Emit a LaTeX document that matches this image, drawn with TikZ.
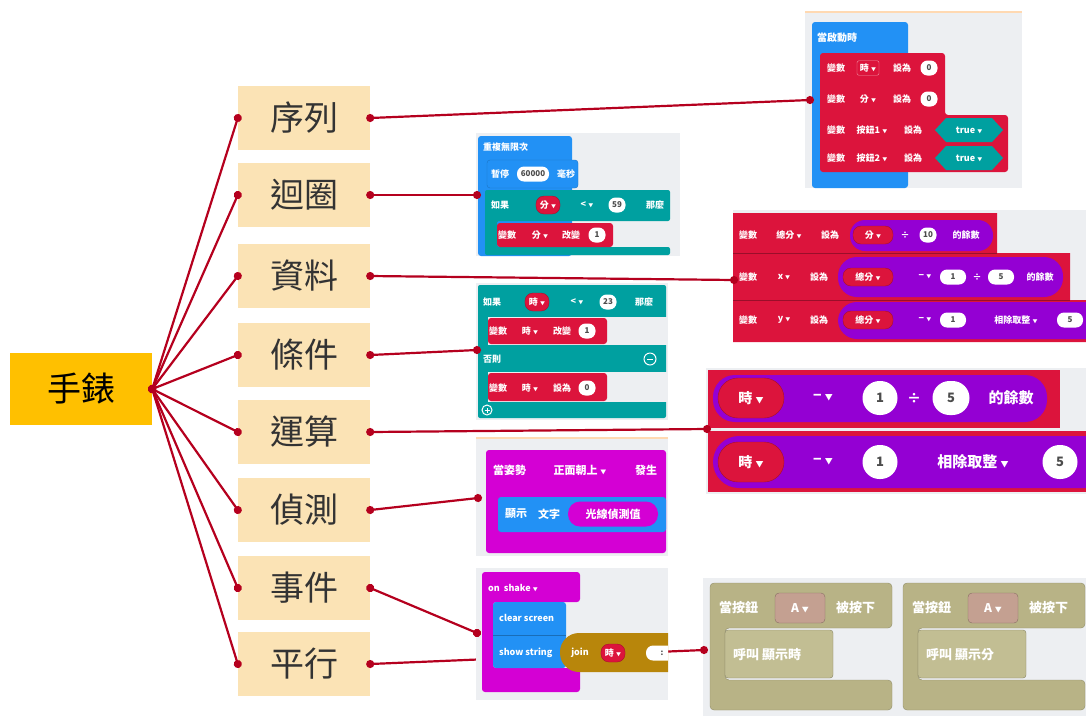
\documentclass[tikz,border=0pt]{standalone}
\usepackage{fontspec}
\newfontfamily\cjk{Noto Sans CJK TC}
\usetikzlibrary{arrows.meta}
\usetikzlibrary{positioning}

\definecolor{watchorange}{HTML}{FFC000}
\definecolor{topicbeige}{HTML}{FBE3B5}
\definecolor{linkred}{HTML}{B5001E}
\definecolor{panelgray}{HTML}{EDEFF2}
\definecolor{mcblue}{HTML}{2291F5}
\definecolor{mcred}{HTML}{DC143C}
\definecolor{mcteal}{HTML}{00A0A0}
\definecolor{mcpurple}{HTML}{9400D3}
\definecolor{mcmagenta}{HTML}{D400D4}
\definecolor{mcgold}{HTML}{B8860B}
\definecolor{mcolive}{HTML}{B8B386}
\definecolor{mcoliveinner}{HTML}{C2BE93}
\definecolor{mcbrown}{HTML}{C4A091}

\newcommand{\mcdrop}[1][5]{{\fontsize{#1}{#1}\selectfont ▼}}

\tikzset{
  topic/.style={fill=topicbeige, minimum width=132pt, minimum height=64pt,
    font=\cjk\fontsize{34}{34}\selectfont, text=black!80},
  blocktxt/.style={font=\cjk\bfseries\fontsize{#1}{#1}\selectfont, text=white, inner sep=1pt},
  blocktxt/.default=9,
  valpill/.style={fill=white, rounded corners=7pt, minimum height=15pt,
    minimum width=17pt, inner sep=2pt, font=\cjk\bfseries\fontsize{8}{8}\selectfont, text=black!70},
  varpill/.style={blocktxt=#1, fill=mcred, draw=mcred!75!black, rounded corners=8pt,
    minimum height=18pt, inner sep=4pt},
  varpill/.default=9,
}

\begin{document}
\begin{tikzpicture}[x=1pt,y=-1pt]
\useasboundingbox (0,0) rectangle (1086,716);

    % the watch and its eight topics
    \node[fill=watchorange, minimum width=142pt, minimum height=72pt,
      font=\cjk\fontsize{34}{34}\selectfont] (watch) at (81,389) {手錶};
    \begin{scope}[every node/.style={topic}]
    \node (seq)   at (304,118) {序列};
    \node (loop)  at (304,195) {迴圈};
    \node (data)  at (304,276) {資料};
    \node (cond)  at (304,355) {條件};
    \node (oper)  at (304,432) {運算};
    \node (sense) at (304,510) {偵測};
    \node (event) at (304,588) {事件};
    \node (par)   at (304,664) {平行};
    \end{scope}

    % where the links touch the screenshots
    \coordinate (pseq)   at (810,100);
    \coordinate (ploop)  at (477,195);
    \coordinate (pdata)  at (734,280);
    \coordinate (pcond)  at (477,350);
    \coordinate (poper)  at (707,429);
    \coordinate (psense) at (478,498);
    \coordinate (pevent) at (477,633);
    \coordinate (ppar)   at (704,650);

    % 序列
    \fill[panelgray] (805,12) rectangle (1022,188);
    \draw[orange!30, line width=1.5pt] (805,12) -- (1022,12);
    \fill[mcblue, rounded corners=3pt] (812,22) rectangle (908,188);
    \node[blocktxt=10, anchor=west] (s0) at (816,38) {當啟動時};
    \fill[mcred, rounded corners=3pt] (820,53) -- (945,53) -- (945,115) -- (1008,115)
      -- (1008,172) -- (820,172) -- cycle;
    \node[blocktxt] (s1a) at (836,68) {變數};
    \node[blocktxt, draw=white!55!mcred, rounded corners=2pt, inner sep=3pt] (s1b) at (868,68) {時 \mcdrop};
    \node[blocktxt] (s1c) at (902,68) {設為};
    \node[valpill] (s1d) at (929,68) {0};
    \node[blocktxt] (s2a) at (836,99) {變數};
    \node[blocktxt] (s2b) at (868,99) {分 \mcdrop};
    \node[blocktxt] (s2c) at (902,99) {設為};
    \node[valpill] (s2d) at (929,99) {0};
    \node[blocktxt] (s3a) at (836,130) {變數};
    \node[blocktxt] (s3b) at (872,130) {按鈕1 \mcdrop};
    \node[blocktxt] (s3c) at (913,130) {設為};
    \fill[mcteal] (935,130) -- (946,118) -- (992,118) -- (1003,130) -- (992,142) -- (946,142) -- cycle;
    \node[blocktxt] (s3d) at (969,130) {true \mcdrop};
    \node[blocktxt] (s4a) at (836,158) {變數};
    \node[blocktxt] (s4b) at (872,158) {按鈕2 \mcdrop};
    \node[blocktxt] (s4c) at (913,158) {設為};
    \fill[mcteal] (935,158) -- (946,146) -- (992,146) -- (1003,158) -- (992,170) -- (946,170) -- cycle;
    \node[blocktxt] (s4d) at (969,158) {true \mcdrop};

    % 迴圈
    \fill[panelgray] (476,133) rectangle (680,256);
    \fill[mcblue, rounded corners=3pt] (478,136) rectangle (572,256);
    \filldraw[fill=mcblue, draw=mcblue!80!black, rounded corners=3pt] (487,160) rectangle (578,188);
    \node[blocktxt, anchor=west] (l0) at (482,147) {重複無限次};
    \node[blocktxt] (l1) at (500,174) {暫停};
    \node[valpill, minimum width=32pt] (l2) at (533,174) {60000};
    \node[blocktxt] (l3) at (566,174) {毫秒};
    \fill[mcteal, rounded corners=2pt] (485,190) -- (670,190) -- (670,221) -- (497,221)
      -- (497,247) -- (670,247) -- (670,255) -- (485,255) -- cycle;
    \node[blocktxt] (l4) at (500,205) {如果};
    \node[varpill] (l5) at (548,205) {分 \mcdrop};
    \node[blocktxt] (l6) at (587,205) {< \mcdrop};
    \node[valpill] (l7) at (617,205) {59};
    \node[blocktxt] (l8) at (655,205) {那麼};
    \fill[mcred, rounded corners=3pt] (497,223) rectangle (613,247);
    \node[blocktxt] (l9) at (507,235) {變數};
    \node[blocktxt] (l10) at (540,235) {分 \mcdrop};
    \node[blocktxt] (l11) at (571,235) {改變};
    \node[valpill] (l12) at (597,235) {1};

    % 資料
    \fill[panelgray] (733,210) rectangle (1086,342);
    \fill[mcred] (733,213) -- (997,213) -- (997,253) -- (1070,253) -- (1070,300)
      -- (1086,300) -- (1086,342) -- (733,342) -- cycle;
    \draw[mcred!70!black] (733,253) -- (997,253) (733,300) -- (1070,300);
    \fill[mcpurple, rounded corners=15pt] (850,220) rectangle (993,251);
    \fill[mcpurple, rounded corners=19pt] (838,257) rectangle (1063,297);
    \fill[mcpurple, rounded corners=19pt] (838,302) rectangle (1120,339);
    \node[blocktxt] (d1a) at (748,235) {變數};
    \node[blocktxt] (d1b) at (789,235) {總分 \mcdrop};
    \node[blocktxt] (d1c) at (830,235) {設為};
    \node[varpill, minimum width=40pt] (d1d) at (873,235) {分 \mcdrop};
    \node[blocktxt] (d1e) at (905,235) {÷};
    \node[valpill] (d1f) at (928,235) {10};
    \node[blocktxt] (d1g) at (966,235) {的餘數};
    \node[blocktxt] (d2a) at (748,277) {變數};
    \node[blocktxt] (d2b) at (784,277) {x \mcdrop};
    \node[blocktxt] (d2c) at (819,277) {設為};
    \node[varpill, minimum width=50pt] (d2d) at (868,277) {總分 \mcdrop};
    \node[blocktxt] (d2e) at (925,277) {− \mcdrop};
    \node[valpill, minimum width=26pt] (d2f) at (953,277) {1};
    \node[blocktxt] (d2g) at (977,277) {÷};
    \node[valpill, minimum width=26pt] (d2h) at (1001,277) {5};
    \node[blocktxt] (d2i) at (1040,277) {的餘數};
    \node[blocktxt] (d3a) at (748,320) {變數};
    \node[blocktxt] (d3b) at (784,320) {y \mcdrop};
    \node[blocktxt] (d3c) at (819,320) {設為};
    \node[varpill, minimum width=50pt] (d3d) at (868,320) {總分 \mcdrop};
    \node[blocktxt] (d3e) at (925,320) {− \mcdrop};
    \node[valpill, minimum width=26pt] (d3f) at (953,320) {1};
    \node[blocktxt] (d3g) at (1016,320) {相除取整 \mcdrop};
    \node[valpill, minimum width=26pt] (d3h) at (1070,320) {5};

    % 條件
    \fill[panelgray] (476,283) rectangle (668,420);
    \fill[mcteal, rounded corners=2pt] (478,285) rectangle (666,418);
    \fill[panelgray] (488,317) rectangle (668,345);
    \fill[panelgray] (488,372) rectangle (668,402);
    \fill[mcred, rounded corners=3pt] (488,318) rectangle (607,344);
    \fill[mcred, rounded corners=3pt] (488,373) rectangle (607,401);
    \node[blocktxt, anchor=west] (c1a) at (482,302) {如果};
    \node[varpill] (c1b) at (537,302) {時 \mcdrop};
    \node[blocktxt] (c1c) at (577,302) {< \mcdrop};
    \node[valpill] (c1d) at (608,302) {23};
    \node[blocktxt] (c1e) at (644,302) {那麼};
    \node[blocktxt] (c2a) at (498,331) {變數};
    \node[blocktxt] (c2b) at (530,331) {時 \mcdrop};
    \node[blocktxt] (c2c) at (562,331) {改變};
    \node[valpill] (c2d) at (587,331) {1};
    \node[blocktxt, anchor=west] (c3a) at (482,359) {否則};
    \node[circle, draw=white, line width=1pt, minimum size=12pt, inner sep=0pt] (cminus) at (650,359) {};
    \draw[white, line width=1pt] ([xshift=-3pt]cminus.center) -- ([xshift=3pt]cminus.center);
    \node[blocktxt] (c4a) at (498,388) {變數};
    \node[blocktxt] (c4b) at (530,388) {時 \mcdrop};
    \node[blocktxt] (c4c) at (562,388) {設為};
    \node[valpill] (c4d) at (587,388) {0};
    \node[circle, draw=white, line width=1pt, minimum size=10pt, inner sep=0pt] (cplus) at (487,410) {};
    \draw[white, line width=1pt] ([xshift=-2.5pt]cplus.center) -- ([xshift=2.5pt]cplus.center)
      ([yshift=-2.5pt]cplus.center) -- ([yshift=2.5pt]cplus.center);

    % 運算
    \fill[panelgray] (706,368) rectangle (1086,494);
    \fill[mcred] (708,370) rectangle (1060,428);
    \fill[mcred] (708,431) rectangle (1086,492);
    \fill[mcpurple, rounded corners=22pt] (713,375) rectangle (1047,422);
    \fill[mcpurple, rounded corners=26pt] (713,436) rectangle (1110,488);
    \node[varpill=14, minimum width=66pt, minimum height=40pt, rounded corners=20pt] (o1a) at (751,398) {時 \mcdrop[8]};
    \node[blocktxt=14] (o1b) at (823,398) {− \mcdrop[8]};
    \node[valpill, font=\cjk\bfseries\fontsize{13}{13}\selectfont, minimum width=35pt, minimum height=34pt, rounded corners=17pt] (o1c) at (880,398) {1};
    \node[blocktxt=14] (o1d) at (914,398) {÷};
    \node[valpill, font=\cjk\bfseries\fontsize{13}{13}\selectfont, minimum width=37pt, minimum height=34pt, rounded corners=17pt] (o1e) at (951,398) {5};
    \node[blocktxt=15] (o1f) at (1011,398) {的餘數};
    \node[varpill=14, minimum width=66pt, minimum height=40pt, rounded corners=20pt] (o2a) at (751,462) {時 \mcdrop[8]};
    \node[blocktxt=14] (o2b) at (823,462) {− \mcdrop[8]};
    \node[valpill, font=\cjk\bfseries\fontsize{13}{13}\selectfont, minimum width=35pt, minimum height=34pt, rounded corners=17pt] (o2c) at (880,462) {1};
    \node[blocktxt=15] (o2d) at (973,462) {相除取整 \mcdrop[8]};
    \node[valpill, font=\cjk\bfseries\fontsize{13}{13}\selectfont, minimum width=35pt, minimum height=34pt, rounded corners=17pt] (o2e) at (1060,462) {5};

    % 偵測
    \fill[panelgray] (476,438) rectangle (668,556);
    \draw[orange!30, line width=2pt] (476,438) -- (668,438);
    \fill[mcmagenta, rounded corners=3pt] (486,450) rectangle (666,553);
    \fill[mcblue, rounded corners=3pt] (498,497) rectangle (666,532);
    \node[blocktxt=11, anchor=west] (n0) at (492,470) {當姿勢};
    \node[blocktxt=11] (n1) at (580,470) {正面朝上 \mcdrop[6]};
    \node[blocktxt=11] (n2) at (646,470) {發生};
    \node[blocktxt=11, anchor=west] (n3) at (504,514) {顯示};
    \node[blocktxt=11, anchor=west] (n4) at (537,514) {文字};
    \node[blocktxt=11, fill=mcmagenta, rounded corners=12pt, minimum height=25pt,
      minimum width=90pt] (n5) at (613,514) {光線偵測值};

    % 平行
    \fill[panelgray] (703,578) rectangle (1086,716);
    \foreach \bx/\blkname in {710/顯示時, 903/顯示分} {
      \filldraw[fill=mcolive, draw=mcolive!80!black, rounded corners=4pt]
        (\bx,583) -- (\bx+182,583) -- (\bx+182,628) -- (\bx+15,628) -- (\bx+15,680)
        -- (\bx+182,680) -- (\bx+182,710) -- (\bx,710) -- cycle;
      \filldraw[fill=mcoliveinner, draw=mcolive!75!black, rounded corners=3pt]
        (\bx+15,630) rectangle (\bx+123,678);
      \node[blocktxt=13, anchor=west] (pa\bx) at (\bx+8,608) {當按鈕};
      \node[blocktxt=12, fill=mcbrown, draw=mcbrown!70!black, rounded corners=4pt,
        minimum width=50pt, minimum height=30pt] (pb\bx) at (\bx+90,608) {A \mcdrop[7]};
      \node[blocktxt=13, anchor=west] (pc\bx) at (\bx+125,608) {被按下};
      \node[blocktxt=13, anchor=west] (pd\bx) at (\bx+22,655) {呼叫 \blkname};
    }

    % links: 平行 runs under the 事件 screenshot
    \begin{scope}[>={Circle[length=8pt]},
                  every edge/.style={draw=linkred, line width=2.2pt, <->,
                  shorten <=-4pt, shorten >=-4pt}]
    \path (par.east) edge (ppar);
    \end{scope}

    % 事件
    \begin{scope}
    \clip (476,568) rectangle (668,700);
    \fill[panelgray] (476,568) rectangle (668,700);
    \fill[mcmagenta, rounded corners=3pt] (482,572) -- (580,572) -- (580,602) -- (493,602)
      -- (493,668) -- (580,668) -- (580,692) -- (482,692) -- cycle;
    \fill[mcblue, rounded corners=3pt] (493,602) rectangle (566,668);
    \draw[mcblue!75!black] (493,635) -- (566,635);
    \fill[mcgold, rounded corners=19pt] (560,633) rectangle (700,672);
    \node[blocktxt, anchor=west] (e0) at (487,588) {on\ \ shake \mcdrop};
    \node[blocktxt, anchor=west] (e1) at (498,618) {clear screen};
    \node[blocktxt, anchor=west] (e2) at (498,653) {show string};
    \node[blocktxt] (e3) at (580,653) {join};
    \node[varpill] (e4) at (613,653) {時 \mcdrop};
    \node[valpill, minimum width=32pt] (e5) at (662,653) {:};
    \end{scope}

    % links from the watch to the topics and on to the screenshots
    \begin{scope}[>={Circle[length=8pt]},
                  every edge/.style={draw=linkred, line width=2.2pt, <->,
                  shorten <=-4pt, shorten >=-4pt}]
    \path (watch.east) edge (seq.west);
    \path (watch.east) edge (loop.west);
    \path (watch.east) edge (data.west);
    \path (watch.east) edge (cond.west);
    \path (watch.east) edge (oper.west);
    \path (watch.east) edge (sense.west);
    \path (watch.east) edge (event.west);
    \path (watch.east) edge (par.west);

    \path (seq.east) edge (pseq);
    \path (loop.east) edge (ploop);
    \path (data.east) edge (pdata);
    \path (cond.east) edge (pcond);
    \path (oper.east) edge (poper);
    \path (sense.east) edge (psense);
    \path (event.east) edge (pevent);
    \end{scope}

\end{tikzpicture}
\end{document}
